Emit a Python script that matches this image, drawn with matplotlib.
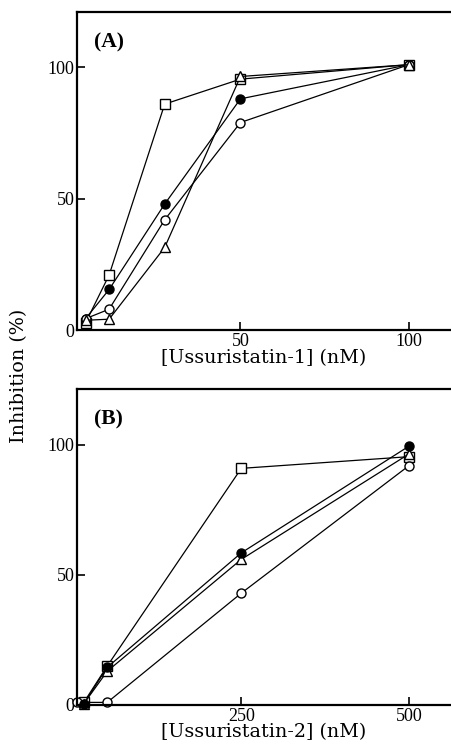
import matplotlib.pyplot as plt

plt.rcParams['font.family'] = ['Liberation Serif', 'DejaVu Serif']

# ── panel A: Ussuristatin-1 (nM) ─────────────────────────────────────────────
x_a = [4, 11, 27.5, 50, 100]
a_square = [2.8, 21, 86, 95.5, 101]
a_filled = [4.4, 15.5, 48, 88, 101]
a_open = [4.4, 8, 42, 79, 101]
a_triangle = [3.8, 4.2, 31.5, 96.5, 101]

# ── panel B: Ussuristatin-2 (nM) ─────────────────────────────────────────────
x_b = [15, 50, 250, 500]
b_square = [1.0, 15, 91, 95.5]
b_filled = [0.5, 14.5, 58.5, 99.5]
b_triangle = [0.5, 13, 56, 96.5]
x_b_open = [5, 50, 250, 500]
b_open = [1.0, 1.0, 43, 92]

series_a = [
    (a_square, "s", "white"),
    (a_filled, "o", "black"),
    (a_open, "o", "white"),
    (a_triangle, "^", "white"),
]

# axis titles are set in a wider serif than the tick numbers
LABEL_FONT = dict(family="DejaVu Serif", fontsize=13.8)


def style_axes(ax):
    for side in ("left", "bottom", "top"):
        ax.spines[side].set_linewidth(1.6)
    ax.spines["right"].set_visible(False)
    ax.tick_params(direction="in", length=6, width=1.2, labelsize=13, pad=2)
    ax.set_yticks([0, 50, 100])


fig = plt.figure(figsize=(4.51, 7.54), dpi=100)
ax_a = fig.add_axes([0.171, 0.562, 0.829, 0.422])
ax_b = fig.add_axes([0.171, 0.065, 0.829, 0.419])

mk = dict(color="black", lw=0.9, markersize=6.5, markeredgewidth=1.0,
          markeredgecolor="black", clip_on=False)

for ys, m, fc in series_a:
    ax_a.plot(x_a, ys, marker=m, markerfacecolor=fc, **mk)
ax_a.set_xlim(1.5, 112.5)
ax_a.set_ylim(0, 121)
ax_a.set_xticks([50, 100])
style_axes(ax_a)
ax_a.set_xlabel("[Ussuristatin-1] (nM)", labelpad=-1, **LABEL_FONT)
ax_a.text(0.045, 0.935, "(A)", transform=ax_a.transAxes, fontsize=15.5,
          fontweight="bold", va="top")

ax_b.plot(x_b, b_square, marker="s", markerfacecolor="white", **mk)
ax_b.plot(x_b, b_triangle, marker="^", markerfacecolor="white", **mk)
ax_b.plot(x_b_open, b_open, marker="o", markerfacecolor="white", **mk)
ax_b.plot(x_b, b_filled, marker="o", markerfacecolor="black", **mk)
ax_b.set_xlim(5, 563)
ax_b.set_ylim(0, 121.5)
ax_b.set_xticks([250, 500])
style_axes(ax_b)
ax_b.set_xlabel("[Ussuristatin-2] (nM)", labelpad=-1, **LABEL_FONT)
ax_b.text(0.045, 0.935, "(B)", transform=ax_b.transAxes, fontsize=15.5,
          fontweight="bold", va="top")

fig.text(0.042, 0.502, "Inhibition (%)", rotation=90, ha="center",
         va="center", **LABEL_FONT)

fig.savefig("out.png", dpi=100)
